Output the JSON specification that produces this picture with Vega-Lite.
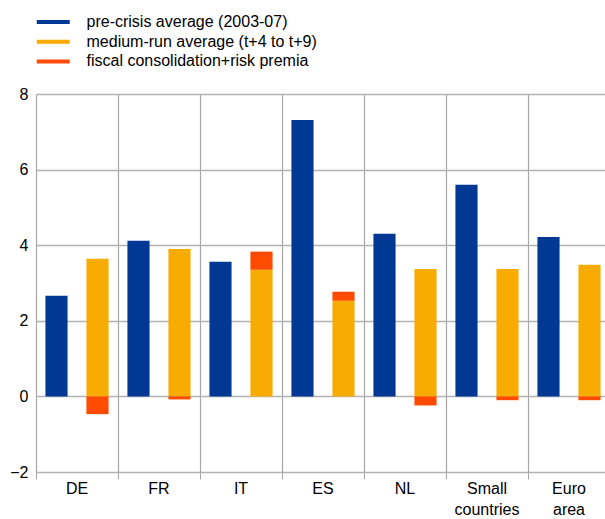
{
  "$schema": "https://vega.github.io/schema/vega-lite/v6.json",
  "width": 569,
  "height": 378,
  "autosize": {"type": "none"},
  "padding": {"left": 36, "top": 94, "right": 0, "bottom": 47},
  "config": {"view": {"stroke": null}, "font": "Liberation Sans"},
  "data": {
    "values": [
      {"country": "DE", "group": "pre", "series": "pre-crisis average (2003-07)", "value": 2.66},
      {"country": "DE", "group": "med", "series": "medium-run average (t+4 to t+9)", "value": 3.64},
      {"country": "DE", "group": "med", "series": "fiscal consolidation+risk premia", "value": -0.47},
      {"country": "FR", "group": "pre", "series": "pre-crisis average (2003-07)", "value": 4.12},
      {"country": "FR", "group": "med", "series": "medium-run average (t+4 to t+9)", "value": 3.9},
      {"country": "FR", "group": "med", "series": "fiscal consolidation+risk premia", "value": -0.08},
      {"country": "IT", "group": "pre", "series": "pre-crisis average (2003-07)", "value": 3.56},
      {"country": "IT", "group": "med", "series": "medium-run average (t+4 to t+9)", "value": 3.35},
      {"country": "IT", "group": "med", "series": "fiscal consolidation+risk premia", "value": 0.48},
      {"country": "ES", "group": "pre", "series": "pre-crisis average (2003-07)", "value": 7.31},
      {"country": "ES", "group": "med", "series": "medium-run average (t+4 to t+9)", "value": 2.53},
      {"country": "ES", "group": "med", "series": "fiscal consolidation+risk premia", "value": 0.24},
      {"country": "NL", "group": "pre", "series": "pre-crisis average (2003-07)", "value": 4.3},
      {"country": "NL", "group": "med", "series": "medium-run average (t+4 to t+9)", "value": 3.37},
      {"country": "NL", "group": "med", "series": "fiscal consolidation+risk premia", "value": -0.24},
      {"country": "Small countries", "group": "pre", "series": "pre-crisis average (2003-07)", "value": 5.6},
      {"country": "Small countries", "group": "med", "series": "medium-run average (t+4 to t+9)", "value": 3.37},
      {"country": "Small countries", "group": "med", "series": "fiscal consolidation+risk premia", "value": -0.1},
      {"country": "Euro area", "group": "pre", "series": "pre-crisis average (2003-07)", "value": 4.22},
      {"country": "Euro area", "group": "med", "series": "medium-run average (t+4 to t+9)", "value": 3.48},
      {"country": "Euro area", "group": "med", "series": "fiscal consolidation+risk premia", "value": -0.1}
    ]
  },
  "mark": {"type": "bar"},
  "encoding": {
    "x": {
      "field": "country", "type": "nominal", "sort": null,
      "scale": {"range": [0, 574], "paddingInner": 0, "paddingOuter": 0},
      "axis": {
        "title": null, "bandPosition": 0, "labelOffset": 0, "labelAngle": 0,
        "domain": false, "ticks": true, "tickSize": 7, "tickColor": "#a6a6a6",
        "grid": true, "gridColor": "#a6a6a6", "gridWidth": 1.2,
        "labelFontSize": 16, "labelColor": "#000", "labelPadding": 1,
        "labelExpr": "split(datum.value, ' ')", "labelLineHeight": 21
      }
    },
    "xOffset": {
      "field": "group", "type": "nominal", "sort": ["pre", "med"],
      "scale": {"paddingInner": 0.46, "paddingOuter": 0.23}
    },
    "y": {
      "field": "value", "type": "quantitative",
      "scale": {"domain": [-2, 8], "nice": false},
      "axis": {
        "title": null, "values": [-2, 0, 2, 4, 6, 8], "ticks": false, "domain": false,
        "labelPadding": 8, "gridColor": "#b3b3b3", "gridWidth": 1.5,
        "labelFontSize": 16, "labelColor": "#000"
      }
    },
    "color": {
      "field": "series", "type": "nominal",
      "scale": {
        "domain": ["pre-crisis average (2003-07)", "medium-run average (t+4 to t+9)", "fiscal consolidation+risk premia"],
        "range": ["#003894", "#f8ab00", "#ff4b00"]
      },
      "legend": {
        "title": null, "orient": "none", "legendX": 8.25, "legendY": -81,
        "symbolType": "M-2,-0.24H2V0.24H-2Z", "symbolSize": 272,
        "labelFontSize": 16, "labelColor": "#000", "labelOffset": 24.25, "labelLimit": 500,
        "rowPadding": 2.7, "padding": 0, "symbolOpacity": 1
      }
    },
    "order": {"field": "series", "sort": "descending"}
  }
}
